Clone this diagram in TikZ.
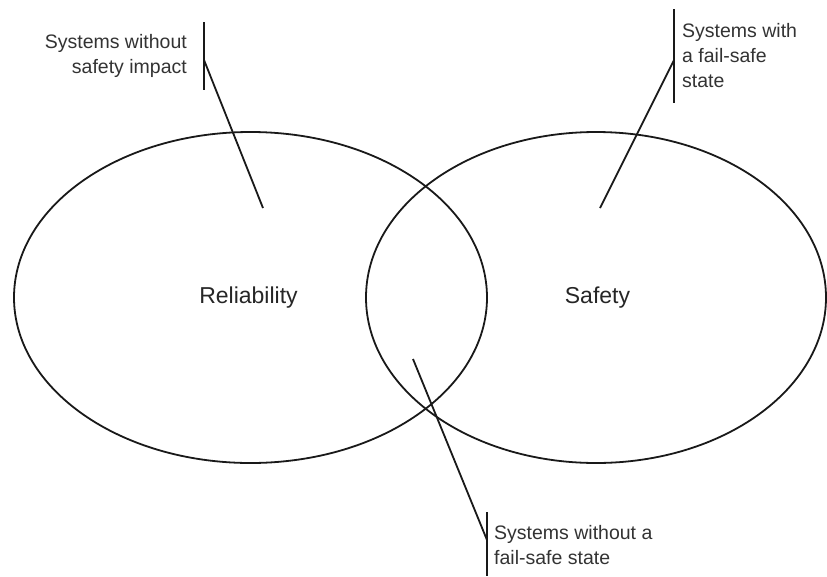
\documentclass[tikz,border=0pt]{standalone}
\usepackage{fontspec}
\setmainfont{Liberation Sans}
\usetikzlibrary{shapes.geometric}
\begin{document}
\begin{tikzpicture}[x=1pt,y=-1pt,
  set/.style={ellipse,draw=black!90,line width=1.8pt,inner sep=0pt,text=black!85,font=\fontsize{23}{28}\selectfont},
  lbl/.style={inner sep=0pt,text=black!80,font=\fontsize{19.5}{25}\selectfont},
  wire/.style={draw=black!90,line width=1.8pt}]
\useasboundingbox (0,0) rectangle (827,576);
\fill[white] (0,0) rectangle (827,576);
\node[set,minimum width=473pt,minimum height=331pt] (rel) at (250.5,297.5) {};
\node[set,minimum width=460pt,minimum height=331pt] (saf) at (596,297.5) {};
\node[inner sep=0pt,text=black!85,font=\fontsize{23}{28}\selectfont] (relt) at (248.5,298) {Reliability};
\node[inner sep=0pt,text=black!85,font=\fontsize{23}{28}\selectfont] (saft) at (597.5,298) {Safety};
% top-left label
\node[lbl,align=right,anchor=east] (l1) at (187,55.5) {Systems without\\safety impact};
\coordinate (b1t) at (204,22);
\coordinate (b1b) at (204,90);
\coordinate (b1m) at (204,60);
\coordinate (p1) at (263,208);
\draw[wire] (b1t) -- (b1b);
\draw[wire] (b1m) -- (p1);
% top-right label
\node[lbl,align=left,anchor=west] (l2) at (682,56) {Systems with\\a fail-safe\\state};
\coordinate (b2t) at (674,9);
\coordinate (b2b) at (674,103);
\coordinate (b2m) at (674,60);
\coordinate (p2) at (600,208);
\draw[wire] (b2t) -- (b2b);
\draw[wire] (b2m) -- (p2);
% bottom label
\node[lbl,align=left,anchor=west] (l3) at (494,545) {Systems without a\\fail-safe state};
\coordinate (b3t) at (487,512);
\coordinate (b3b) at (487,576);
\coordinate (b3m) at (487,540);
\coordinate (p3) at (413,359);
\draw[wire] (b3t) -- (b3b);
\draw[wire] (b3m) -- (p3);
\end{tikzpicture}
\end{document}
